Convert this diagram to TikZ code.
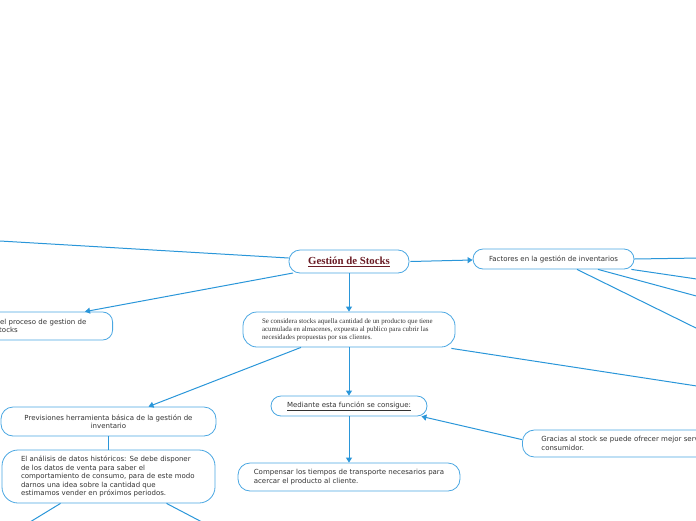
\documentclass[tikz,border=0pt]{standalone}
\usepackage{fontspec}
\setmainfont{Liberation Serif}
\newfontfamily\sansf{DejaVu Sans}
\usetikzlibrary{arrows.meta}
\definecolor{linkblue}{HTML}{2A96D9}
\definecolor{nodeblue}{HTML}{4AA7E2}
\definecolor{txtgray}{HTML}{333333}
\definecolor{titlered}{HTML}{6A1B24}
\tikzset{
  box/.style={draw=nodeblue, line width=0.8pt, rounded corners=10pt, fill=white,
    font=\sansf\fontsize{7}{8.5}\selectfont, text=txtgray, inner sep=0pt},
  conn/.style={draw=linkblue, line width=1pt},
  arr/.style={conn, -{Triangle[width=6pt,length=5pt]}},
}
\begin{document}
\begin{tikzpicture}[x=1pt,y=-1pt]
\useasboundingbox (0,0) rectangle (696,520);
\clip (0,0) rectangle (696,520);
% nodes
\node[box, minimum width=120pt, minimum height=23pt, rounded corners=11pt] (g) at (349,261.5)
  {\fontsize{10.8}{12}\selectfont\rmfamily\bfseries\color{titlered}\underline{Gestión de Stocks}};
\node[box, minimum width=161pt, minimum height=20pt] (f) at (553.5,259) {Factores en la gestión de inventarios};
\node[box, anchor=east, text width=104pt, align=left, inner xsep=13pt, minimum height=28pt] (p) at (113,326)
  {del proceso de gestion de\\stocks};
\node[box, minimum width=212pt, minimum height=35pt, rounded corners=14pt] (s) at (349,329.5)
  {\begin{minipage}{174pt}\rmfamily\fontsize{6.9}{8}\selectfont Se considera stocks aquella cantidad de un producto que tiene\\acumulada en almacenes, expuesta al publico para cubrir las\\necesidades propuestas por sus clientes.\end{minipage}};
\node[box, minimum width=156pt, minimum height=20pt] (m) at (349,406) {\underline{Mediante esta función se consigue:}};
\node[box, minimum width=222pt, minimum height=28pt, rounded corners=12pt, align=left] (c) at (349,477)
  {Compensar los tiempos de transporte necesarios para\\acercar el producto al cliente.};
\node[box, minimum width=215pt, minimum height=29pt, rounded corners=12pt, align=center] (v) at (108.5,421.5)
  {Previsiones herramienta básica de la gestión de\\inventario};
\node[box, minimum width=213pt, minimum height=53pt, rounded corners=16pt] (a) at (108.5,476.5)
  {\begin{minipage}{175pt}El análisis de datos históricos: Se debe disponer\\de los datos de venta para saber el\\comportamiento de consumo, para de este modo\\darnos una idea sobre la cantidad que\\estimamos vender en próximos periodos.\end{minipage}};
\node[box, anchor=west, minimum height=27pt, text width=220pt, align=left, inner xsep=19pt, rounded corners=12pt] (r) at (522,443.5)
  {Gracias al stock se puede ofrecer mejor servicio al\\consumidor.};
% free ends
\coordinate (e1) at (0,241);
\coordinate (e2) at (700,258);
\coordinate (e3) at (700,279.5);
\coordinate (e4) at (700,297);
\coordinate (e5) at (700,330);
\coordinate (e6) at (700,386.5);
\coordinate (e7) at (30,522);
\coordinate (e8) at (202,522);
% connectors
\draw[conn] (g.west) ++(0,-3.5) coordinate (gw) (gw) -- (e1);
\draw[arr] (g.east) ++(1,0) coordinate (ge) (ge) -- ([yshift=-1pt]f.west);
\draw[arr] (293,273) coordinate (gsw) (gsw) -- ([xshift=-28pt]p.north east);
\draw[arr] (g.south) -- (s.north);
\draw[conn] (f.east) -- (e2);
\draw[conn] ([xshift=-3pt]f.south east) -- (e3);
\draw[conn] ([xshift=44.5pt]f.south) -- (e4);
\draw[conn] ([xshift=23.5pt]f.south) -- (e5);
\draw[arr] ([xshift=-48pt]s.south) -- ([xshift=40pt]v.north);
\draw[arr] (s.south) -- (m.north);
\draw[conn] ([xshift=-4pt,yshift=-1pt]s.south east) -- (e6);
\draw[arr] (m.south) -- (c.north);
\draw[arr] ([yshift=-10pt]r.north west) -- ([xshift=-6pt]m.south east);
\draw[conn] (v.south) -- (a.north);
\draw[conn] ([xshift=-48pt]a.south) -- (e7);
\draw[conn] ([xshift=58pt]a.south) -- (e8);
\end{tikzpicture}
\end{document}
